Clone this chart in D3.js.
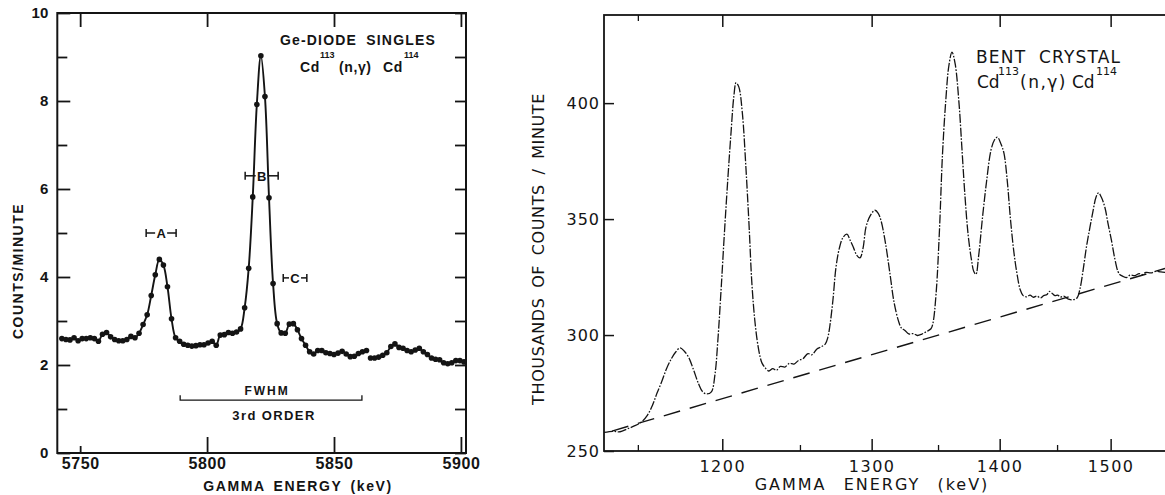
<!DOCTYPE html>
<html>
<head>
<meta charset="utf-8">
<script src="https://cdn.jsdelivr.net/npm/d3@7"></script>
<style>
  html, body { margin: 0; padding: 0; background: #fff; }
  svg { display: block; }
</style>
</head>
<body>
<svg id="chart" width="1165" height="495"></svg>
<script>
// ---------- Ge-diode singles spectrum ----------
const geEnergy = [
  5742.8, 5744.4, 5746.0, 5747.6, 5749.2, 5750.8, 5752.4, 5754.0, 5755.6, 5757.2,
  5758.8, 5760.4, 5762.0, 5763.6, 5765.2, 5766.8, 5768.4, 5770.0, 5771.6, 5773.2,
  5774.8, 5776.4, 5778.0, 5779.6, 5781.2, 5782.8, 5784.4, 5786.0, 5787.6, 5789.2,
  5790.8, 5792.4, 5794.0, 5795.6, 5797.2, 5798.8, 5800.4, 5802.0, 5803.6, 5805.2,
  5806.8, 5808.4, 5810.0, 5811.6, 5813.2, 5814.8, 5816.4, 5818.0, 5819.6, 5821.2,
  5822.8, 5824.4, 5826.0, 5827.6, 5829.2, 5830.8, 5832.4, 5834.0, 5835.6, 5837.2,
  5838.8, 5840.4, 5842.0, 5843.6, 5845.2, 5846.8, 5848.4, 5850.0, 5851.6, 5853.2,
  5854.8, 5856.4, 5858.0, 5859.6, 5861.2, 5862.8, 5864.4, 5866.0, 5867.6, 5869.2,
  5870.8, 5872.4, 5874.0, 5875.6, 5877.2, 5878.8, 5880.4, 5882.0, 5883.6, 5885.2,
  5886.8, 5888.4, 5890.0, 5891.6, 5893.2, 5894.8, 5896.4, 5898.0, 5899.6, 5901.2
];
const geCounts = [
  2.60, 2.58, 2.57, 2.62, 2.55, 2.60, 2.60, 2.62, 2.60, 2.54,
  2.70, 2.74, 2.64, 2.58, 2.55, 2.55, 2.58, 2.65, 2.62, 2.72,
  2.92, 3.14, 3.58, 4.05, 4.40, 4.27, 3.78, 3.05, 2.62, 2.54,
  2.47, 2.45, 2.43, 2.44, 2.46, 2.46, 2.50, 2.54, 2.45, 2.68,
  2.69, 2.74, 2.72, 2.75, 2.82, 3.30, 4.20, 5.82, 7.92, 9.03,
  8.10, 5.80, 3.85, 2.94, 2.73, 2.72, 2.93, 2.94, 2.80, 2.60,
  2.45, 2.30, 2.25, 2.33, 2.33, 2.28, 2.26, 2.24, 2.27, 2.31,
  2.25, 2.19, 2.20, 2.26, 2.30, 2.33, 2.16, 2.16, 2.18, 2.22,
  2.28, 2.42, 2.48, 2.40, 2.38, 2.33, 2.30, 2.34, 2.38, 2.30,
  2.24, 2.16, 2.13, 2.12, 2.05, 2.03, 2.05, 2.10, 2.10, 2.07
];
// the pen lifts between these two runs of channels
const geRuns = [[0, 76], [76, 100]];
const geXTicks = [5750, 5800, 5850, 5900];
const geYTicks = [0, 2, 4, 6, 8, 10];
const geYMinor = [1, 3, 5, 7, 9];

// resolution bars for the three lines
const resLabels = ["A", "B", "C"];
const resLow = [5776.0, 5815.0, 5830.0];
const resHigh = [5787.8, 5828.0, 5839.3];
const resLevel = [5.0, 6.3, 3.98];

// third-order FWHM bracket
const fwhmRange = [5789.4, 5861.0];
const fwhmLevel = 1.2;

// ---------- bent crystal spectrum ----------
const bcEnergy = [
  1131.1, 1136.0, 1140.0, 1144.0, 1148.0, 1152.0, 1155.5, 1158.5, 1161.0, 1163.5,
  1166.5, 1169.5, 1172.0, 1174.5, 1177.0, 1179.5, 1182.5, 1185.5, 1188.0, 1190.6,
  1193.3, 1195.5, 1197.3, 1199.3, 1201.3, 1203.5, 1205.4, 1207.2, 1208.6, 1210.3,
  1212.5, 1214.8, 1216.8, 1218.6, 1220.8, 1223.1, 1225.0, 1227.0, 1229.5, 1232.0,
  1234.5, 1237.0, 1240.0, 1243.0, 1246.0, 1249.0, 1252.0, 1255.4, 1258.0, 1261.5,
  1264.0, 1267.3, 1269.0, 1270.4, 1272.5, 1274.6, 1277.0, 1279.5, 1282.3, 1284.5,
  1286.9, 1289.2, 1291.6, 1293.8, 1295.9, 1299.0, 1302.4, 1304.8, 1306.8, 1310.0,
  1313.4, 1316.5, 1319.8, 1322.0, 1324.6, 1327.5, 1331.2, 1334.0, 1337.5, 1341.0,
  1344.5, 1346.0, 1348.5, 1351.1, 1353.5, 1356.2, 1358.5, 1361.0, 1363.5, 1366.6,
  1369.0, 1371.4, 1374.0, 1376.8, 1378.5, 1380.3, 1382.5, 1385.7, 1389.0, 1392.7,
  1395.5, 1398.1, 1401.0, 1403.6, 1406.5, 1409.0, 1412.0, 1414.7, 1417.5, 1420.0,
  1423.0, 1426.0, 1429.0, 1432.0, 1435.2, 1438.0, 1441.0, 1443.0, 1445.5, 1448.0,
  1450.5, 1453.0, 1456.0, 1460.4, 1464.0, 1468.2, 1471.0, 1474.2, 1477.0, 1480.3,
  1483.0, 1486.0, 1488.4, 1491.0, 1494.5, 1497.5, 1500.8, 1504.0, 1507.0, 1509.1,
  1512.0, 1515.5, 1519.0, 1523.9, 1528.0, 1531.0, 1534.9, 1540.0, 1545.0, 1550.0,
  1555.0
];
const bcCounts = [
  258.0, 258.5, 258.3, 259.5, 260.8, 262.5, 265.5, 270.0, 275.0, 279.5,
  285.5, 290.0, 292.8, 294.5, 293.0, 290.5, 285.0, 279.0, 275.5, 274.6,
  275.5, 283.0, 298.0, 320.0, 343.8, 368.0, 387.0, 403.0, 408.8, 407.0,
  396.0, 372.0, 347.0, 322.0, 304.0, 293.0, 288.0, 286.0, 284.5, 285.5,
  284.8, 286.5, 286.2, 287.8, 287.5, 289.0, 289.8, 292.0, 291.5, 294.0,
  294.8, 296.2, 299.0, 304.0, 315.0, 329.0, 337.5, 342.0, 343.5, 341.0,
  337.8, 334.5, 333.3, 337.5, 346.5, 351.5, 353.8, 352.5, 349.4, 340.0,
  326.5, 314.0, 306.0, 303.0, 302.0, 300.5, 300.6, 299.8, 300.4, 301.5,
  302.7, 305.0, 318.0, 345.0, 378.0, 402.0, 416.0, 422.0, 417.0, 400.0,
  380.0, 360.0, 343.0, 332.0, 327.5, 326.2, 334.0, 350.7, 366.0, 379.7,
  384.0, 385.3, 382.5, 378.4, 366.0, 350.7, 336.0, 326.5, 319.5, 317.0,
  316.5, 317.2, 316.3, 316.8, 316.0, 317.0, 317.5, 318.8, 318.0, 317.0,
  317.2, 316.4, 316.8, 315.5, 315.2, 316.0, 320.0, 329.0, 338.0, 346.5,
  353.0, 359.4, 361.3, 359.5, 355.0, 348.0, 340.8, 333.0, 327.5, 326.0,
  325.3, 324.8, 325.8, 325.6, 326.5, 326.0, 327.0, 326.8, 327.5, 327.2,
  327.0
];
// straight background estimate
const bgEnergy = [1135.5, 1554.4];
const bgCounts = [258.6, 328.7];

const bcXTicks = [1200, 1300, 1400, 1500];
const bcXMinor = [1150, 1250, 1350, 1450];
const bcYTicks = [250, 300, 350, 400];

const INK = "#141414";
const svg = d3.select("#chart");

function cleanAxis(g) {
  g.attr("font-family", null).attr("font-size", null);
  g.select(".domain").remove();
  g.selectAll(".tick line").attr("stroke", INK);
  g.selectAll(".tick text").attr("fill", INK);
}

// =====================================================================
// Left panel: Ge-diode singles
// =====================================================================
const xL = d3.scaleLinear().domain([5741, 5902]).range([57.3, 466]);
const yL = d3.scaleLinear().domain([0, 10]).range([453, 13]);

const left = svg.append("g")
  .attr("font-family", "'Liberation Sans', Arial, sans-serif")
  .attr("font-weight", "bold")
  .attr("fill", INK);

left.append("rect")
  .attr("x", xL.range()[0]).attr("y", yL.range()[1])
  .attr("width", xL.range()[1] - xL.range()[0])
  .attr("height", yL.range()[0] - yL.range()[1])
  .attr("fill", "none").attr("stroke", INK).attr("stroke-width", 2);

// y ticks (left, labelled)
left.append("g").attr("transform", `translate(${xL.range()[0]},0)`)
  .call(d3.axisLeft(yL).tickValues(geYTicks).tickSize(-13).tickPadding(9))
  .call(cleanAxis)
  .call(g => g.selectAll(".tick line").attr("stroke-width", 1.8))
  .call(g => g.selectAll(".tick text").attr("font-size", 15));
left.append("g").attr("transform", `translate(${xL.range()[0]},0)`)
  .call(d3.axisLeft(yL).tickValues(geYMinor).tickSize(-10).tickFormat(""))
  .call(cleanAxis)
  .call(g => g.selectAll(".tick line").attr("stroke-width", 1.8));
// y ticks (right side)
left.append("g").attr("transform", `translate(${xL.range()[1]},0)`)
  .call(d3.axisRight(yL).tickValues(geYTicks.concat(geYMinor)).tickSize(-11).tickFormat(""))
  .call(cleanAxis)
  .call(g => g.selectAll(".tick line").attr("stroke-width", 1.8));
// x ticks
left.append("g").attr("transform", `translate(0,${yL.range()[0]})`)
  .call(d3.axisBottom(xL).tickValues(geXTicks).tickSize(-16).tickPadding(5).tickFormat(d3.format("d")))
  .call(cleanAxis)
  .call(g => g.selectAll(".tick line").attr("stroke-width", 1.8)
    .attr("y2", d => d === geXTicks[0] ? -7 : -16))
  .call(g => g.selectAll(".tick text").attr("font-size", 16).attr("letter-spacing", 0.6));
left.append("g").attr("transform", `translate(0,${yL.range()[1]})`)
  .call(d3.axisTop(xL).tickValues(geXTicks).tickSize(-14).tickFormat(""))
  .call(cleanAxis)
  .call(g => g.selectAll(".tick line").attr("stroke-width", 1.8));

// spectrum line (two pen runs) and points
const lineL = d3.line()
  .x(i => xL(geEnergy[i]))
  .y(i => yL(geCounts[i]))
  .curve(d3.curveCatmullRom.alpha(0.5));
geRuns.forEach(([a, b]) => {
  left.append("path")
    .datum(d3.range(a, b))
    .attr("d", lineL)
    .attr("fill", "none").attr("stroke", INK).attr("stroke-width", 1.9);
});
left.append("g").selectAll("circle")
  .data(geCounts)
  .join("circle")
  .attr("cx", (d, i) => xL(geEnergy[i]))
  .attr("cy", d => yL(d))
  .attr("r", 2.8)
  .attr("fill", INK);

// resolution bars
resLabels.forEach((lab, i) => {
  const x0 = xL(resLow[i]), x1 = xL(resHigh[i]), y = yL(resLevel[i]);
  const xm = (x0 + x1) / 2;
  const g = left.append("g").attr("stroke", INK).attr("stroke-width", 1.5);
  g.append("line").attr("x1", x0).attr("x2", x0).attr("y1", y - 4).attr("y2", y + 4);
  g.append("line").attr("x1", x1).attr("x2", x1).attr("y1", y - 4).attr("y2", y + 4);
  g.append("line").attr("x1", x0).attr("x2", xm - 6).attr("y1", y).attr("y2", y);
  g.append("line").attr("x1", xm + 6).attr("x2", x1).attr("y1", y).attr("y2", y);
  left.append("text").attr("x", xm).attr("y", y + 4.7)
    .attr("text-anchor", "middle").attr("font-size", 13).text(lab);
});

// FWHM bracket
{
  const x0 = xL(fwhmRange[0]), x1 = xL(fwhmRange[1]), y = yL(fwhmLevel);
  left.append("path")
    .attr("d", `M${x0},${y - 5}V${y}H${x1}V${y - 5}`)
    .attr("fill", "none").attr("stroke", INK).attr("stroke-width", 1.3);
  const xm = (x0 + x1) / 2;
  left.append("text").attr("x", xm - 4).attr("y", y - 5)
    .attr("text-anchor", "middle").attr("font-size", 12).attr("letter-spacing", 2).text("FWHM");
  left.append("text").attr("x", xm + 3).attr("y", y + 20)
    .attr("text-anchor", "middle").attr("font-size", 13).attr("letter-spacing", 1.4).text("3rd ORDER");
}

// titles
left.append("text").attr("x", 358).attr("y", 45)
  .attr("text-anchor", "middle").attr("font-size", 14).attr("letter-spacing", 1.2)
  .attr("word-spacing", 4).text("Ge-DIODE SINGLES");
{
  const t = left.append("text").attr("y", 72).attr("font-size", 14).attr("letter-spacing", 0.6);
  t.append("tspan").attr("x", 300).text("Cd");
  t.append("tspan").attr("x", 320).attr("dy", -14).attr("font-size", 9).attr("letter-spacing", 0).text("113");
  t.append("tspan").attr("x", 339).attr("dy", 14).text("(n,\u03b3)");
  t.append("tspan").attr("x", 383).text("Cd");
  t.append("tspan").attr("x", 404).attr("dy", -14).attr("font-size", 9).attr("letter-spacing", 0).text("114");
}

// axis titles
left.append("text").attr("x", 298).attr("y", 491)
  .attr("text-anchor", "middle").attr("font-size", 14).attr("letter-spacing", 1.6)
  .attr("word-spacing", 3).text("GAMMA ENERGY (keV)");
left.append("text")
  .attr("transform", "translate(23,271) rotate(-90)")
  .attr("text-anchor", "middle").attr("font-size", 14).attr("letter-spacing", 1.5)
  .text("COUNTS/MINUTE");

// =====================================================================
// Right panel: bent crystal spectrometer (linear in wavelength)
// =====================================================================
const xR = d3.scalePow().exponent(-1).domain([1131.1, 1559.6]).range([604, 1170]);
const yR = d3.scaleLinear().domain([250, 438]).range([451, 15]);

const right = svg.append("g")
  .attr("font-family", "'DejaVu Sans', Verdana, sans-serif")
  .attr("fill", INK);

right.append("rect")
  .attr("x", xR.range()[0]).attr("y", yR.range()[1])
  .attr("width", xR.range()[1] - xR.range()[0])
  .attr("height", yR.range()[0] - yR.range()[1])
  .attr("fill", "none").attr("stroke", INK).attr("stroke-width", 1.8);

right.append("g").attr("transform", `translate(${xR.range()[0]},0)`)
  .call(d3.axisLeft(yR).tickValues(bcYTicks).tickSize(-10).tickPadding(4))
  .call(cleanAxis)
  .call(g => g.selectAll(".tick line").attr("stroke-width", 1.5))
  .call(g => g.selectAll(".tick text").attr("font-size", 16).attr("letter-spacing", 1));

right.append("g").attr("transform", `translate(0,${yR.range()[0]})`)
  .call(d3.axisBottom(xR).tickValues(bcXTicks).tickSize(-12).tickPadding(10).tickFormat(d3.format("d")))
  .call(cleanAxis)
  .call(g => g.selectAll(".tick line").attr("stroke-width", 1.5))
  .call(g => g.selectAll(".tick text").attr("font-size", 16).attr("letter-spacing", 1.5));
right.append("g").attr("transform", `translate(0,${yR.range()[0]})`)
  .call(d3.axisBottom(xR).tickValues(bcXMinor).tickSize(-6).tickFormat(""))
  .call(cleanAxis)
  .call(g => g.selectAll(".tick line").attr("stroke-width", 1.3));
right.append("g").attr("transform", `translate(0,${yR.range()[1]})`)
  .call(d3.axisTop(xR).tickValues(bcXTicks).tickSize(-12).tickFormat(""))
  .call(cleanAxis)
  .call(g => g.selectAll(".tick line").attr("stroke-width", 1.5));
right.append("g").attr("transform", `translate(0,${yR.range()[1]})`)
  .call(d3.axisTop(xR).tickValues([bcXMinor[0]]).tickSize(-6).tickFormat(""))
  .call(cleanAxis)
  .call(g => g.selectAll(".tick line").attr("stroke-width", 1.3));

// background line
right.append("path")
  .datum(bgCounts)
  .attr("d", d3.line().x((d, i) => xR(bgEnergy[i])).y(d => yR(d)))
  .attr("fill", "none").attr("stroke", INK).attr("stroke-width", 1.4)
  .attr("stroke-dasharray", "17,10");

// measured spectrum
right.append("path")
  .datum(bcCounts)
  .attr("d", d3.line()
    .x((d, i) => xR(bcEnergy[i]))
    .y(d => yR(d))
    .curve(d3.curveCatmullRom.alpha(0.5)))
  .attr("fill", "none").attr("stroke", INK).attr("stroke-width", 1.3)
  .attr("stroke-dasharray", "9,1.6,1.6,1.6");

// titles
right.append("text").attr("x", 976).attr("y", 63)
  .attr("font-size", 17).attr("letter-spacing", 1.2).attr("word-spacing", 6)
  .text("BENT CRYSTAL");
{
  const t = right.append("text").attr("y", 88).attr("font-size", 17);
  t.append("tspan").attr("x", 977).text("Cd");
  t.append("tspan").attr("x", 998).attr("dy", -13).attr("font-size", 11).text("113");
  t.append("tspan").attr("x", 1020).attr("dy", 13).attr("letter-spacing", 1.5).text("(n,\u03b3)");
  t.append("tspan").attr("x", 1072).text("Cd");
  t.append("tspan").attr("x", 1096).attr("dy", -13).attr("font-size", 11).text("114");
}

// axis titles
right.append("text").attr("x", 872).attr("y", 490)
  .attr("text-anchor", "middle").attr("font-size", 16).attr("letter-spacing", 2)
  .attr("word-spacing", 10).text("GAMMA ENERGY (keV)");
right.append("text")
  .attr("transform", "translate(544,249) rotate(-90)")
  .attr("text-anchor", "middle").attr("font-size", 16).attr("letter-spacing", 0.6)
  .attr("word-spacing", 4).text("THOUSANDS OF COUNTS / MINUTE");
</script>
</body>
</html>
